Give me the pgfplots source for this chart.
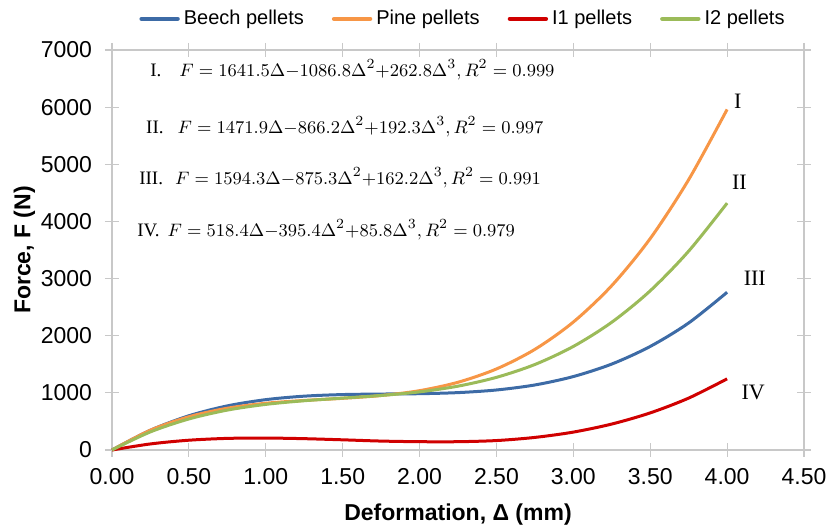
\documentclass[border=0pt]{standalone}
\usepackage{fontspec}
\setmainfont{Liberation Sans}
\newfontfamily\serif{Liberation Serif}
\usepackage{pgfplots}
\pgfplotsset{compat=1.18}

\definecolor{beech}{HTML}{3D6BA6}
\definecolor{pine}{HTML}{F79646}
\definecolor{ione}{HTML}{D00000}
\definecolor{itwo}{HTML}{9BBB59}
\definecolor{frame}{HTML}{C8C8C8}

\begin{document}
\begin{tikzpicture}
\begin{axis}[
    name=ax,
    scale only axis,
    width=346pt,
    height=200pt,
    xmin=0, xmax=4.5,
    ymin=0, ymax=7000,
    xtick={0,0.5,...,4.5},
    ytick={0,1000,...,7000},
    xticklabel={\pgfmathprintnumber[fixed,fixed zerofill,precision=2]{\tick}},
    yticklabel={\pgfmathprintnumber[fixed,1000 sep={}]{\tick}},
    /pgf/number format/assume math mode=true,
    scaled ticks=false,
    tick label style={font=\fontsize{11.5}{13}\selectfont},
    yticklabel style={xshift=-3pt},
    xticklabel style={yshift=-2pt},
    axis line style={draw=frame, line width=0.6pt},
    tick style={draw=frame, line width=0.6pt},
    tick align=center,
    major tick length=7pt,
    xlabel={\textbf{Deformation, Δ (mm)}},
    ylabel={\textbf{Force, F (N)}},
    label style={font=\fontsize{11.5}{13}\selectfont},
    xlabel style={yshift=-3pt},
    ylabel style={yshift=-4pt},
    legend columns=4,
    legend style={draw=none, at={(0.5,1)}, anchor=south, yshift=9pt, xshift=3pt,
        font=\fontsize{10}{12}\selectfont,
        /tikz/every even column/.append style={column sep=12pt},
        inner sep=0pt},
    legend image code/.code={\draw[#1, line width=2.2pt, line cap=round] (0,0) -- (18pt,0);},
    every axis plot/.append style={line width=1.5pt, smooth},
    clip=false,
]

% Beech pellets (III)
\addplot[beech] coordinates {
    (0,0) (0.25,346) (0.5,599) (0.75,772) (1.0,881) (1.25,942) (1.5,970)
    (1.75,979) (2.0,985) (2.25,1004) (2.5,1050) (2.75,1138) (3.0,1285)
    (3.25,1504) (3.5,1812) (3.75,2223) (4.0,2760)
};
% Pine pellets (I)
\addplot[pine] coordinates {
    (0,0) (0.25,347) (0.5,582) (0.75,731) (1.0,818) (1.25,867) (1.5,904)
    (1.75,953) (2.0,1038) (2.25,1185) (2.5,1418) (2.75,1761) (3.0,2239)
    (3.25,2877) (3.5,3700) (3.75,4731) (4.0,5960)
};
% I1 pellets (IV)
\addplot[ione] coordinates {
    (0,0) (0.25,106) (0.5,171) (0.75,203) (1.0,209) (1.25,198) (1.5,178)
    (1.75,156) (2.0,145) (2.25,145) (2.5,165) (2.75,220) (3.0,313)
    (3.25,454) (3.5,649) (3.75,908) (4.0,1245)
};
% I2 pellets (II)
\addplot[itwo] coordinates {
    (0,0) (0.25,317) (0.5,543) (0.75,698) (1.0,798) (1.25,862) (1.5,908)
    (1.75,954) (2.0,1017) (2.25,1117) (2.5,1271) (2.75,1496) (3.0,1812)
    (3.25,2236) (3.5,2786) (3.75,3480) (4.0,4320)
};
\legend{Beech pellets, Pine pellets, I1 pellets, I2 pellets}

% plot area frame (top and right)
\draw[frame, line width=0.6pt] (axis cs:0,7000) -- (axis cs:4.5,7000) -- (axis cs:4.5,0);

% fitted equations
\begin{scope}[every node/.style={anchor=west, font=\serif\fontsize{9.5}{11}\selectfont, inner sep=0pt}]
\node at (axis cs:0.247,6652) {I.\hspace{9pt}$F = 1641.5\Delta{-}1086.8\Delta^{2}{+}262.8\Delta^{3}, R^{2} = 0.999$};
\node at (axis cs:0.220,5655) {II.\hspace{7pt}$F = 1471.9\Delta{-}866.2\Delta^{2}{+}192.3\Delta^{3}, R^{2} = 0.997$};
\node at (axis cs:0.175,4764) {III.\hspace{6pt}$F = 1594.3\Delta{-}875.3\Delta^{2}{+}162.2\Delta^{3}, R^{2} = 0.991$};
\node at (axis cs:0.162,3855) {IV.\hspace{4pt}$F = 518.4\Delta{-}395.4\Delta^{2}{+}85.8\Delta^{3}, R^{2} = 0.979$};
\end{scope}

% curve labels
\begin{scope}[every node/.style={font=\serif\fontsize{11}{13}\selectfont, inner sep=0pt}]
\node at (axis cs:4.07,6100) {I};
\node at (axis cs:4.08,4680) {II};
\node at (axis cs:4.18,3000) {III};
\node at (axis cs:4.17,1000) {IV};
\end{scope}

\end{axis}
\pgfresetboundingbox
\path ([shift={(-56pt,-38pt)}]ax.south west) rectangle ([shift={(12.5pt,25pt)}]ax.north east);
\end{tikzpicture}
\end{document}
